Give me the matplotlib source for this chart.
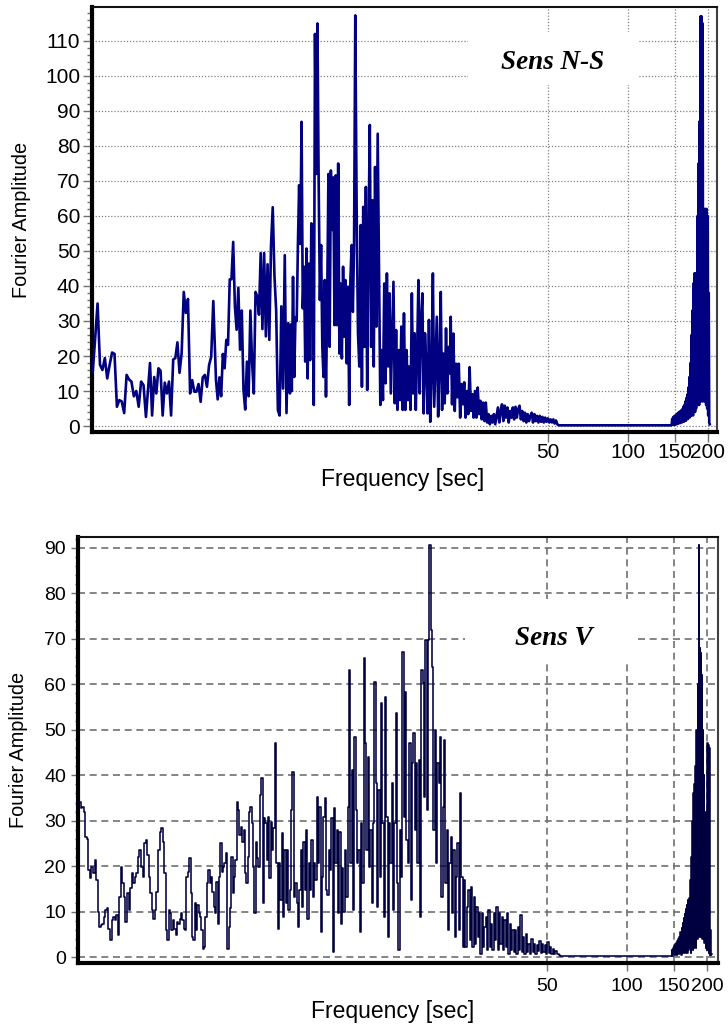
import numpy as np
import matplotlib
matplotlib.use("Agg")
import matplotlib.pyplot as plt
from matplotlib.patches import Rectangle
from matplotlib.ticker import FixedLocator, FixedFormatter, NullLocator, MultipleLocator

plt.rcParams['font.family'] = ['Liberation Sans', 'DejaVu Sans']

# ---------------- Sens N-S : Fourier amplitude, segment by segment ----------------
# each segment: (start frequency, end frequency) and amplitudes sampled across it
ns_seg1_freq = (0.974, 1.544)
ns_seg1_amp = [15.5, 25, 35, 17.5, 16, 19.4, 13.6, 17.5, 21, 20.6, 5.5, 7.4, 7, 3.7,
               14.6, 13.3, 12.7, 8.5, 10, 5.5, 12.7, 11.7, 2.6]
ns_seg2_freq = (1.599, 2.766)
ns_seg2_amp = [18, 3, 14, 9.3, 16.5, 15.8, 3, 12.4, 9.3, 12.7, 3, 19, 19.4, 23.9, 15.2,
               20.8, 38.3, 32.3, 36.3, 9.3, 13.1, 9.8, 9.8, 12, 6.9, 13.9, 14.6, 11.2,
               17.4, 19.8, 35.7]
ns_seg3_freq = (2.831, 5.37)
ns_seg3_amp = [13.1, 7.6, 13.9, 8.5, 20.6, 16.5, 24.6, 23.2, 41.9, 41.9, 52.6, 34.2,
               27.5, 39.5, 21.8, 33, 10.3, 4.7, 18.4, 8.5, 33, 18.1, 9.3, 38.3, 37, 31.8,
               49.4, 27.7, 49.4, 25.6, 46.2, 24.6, 51.5, 62.5, 42.9, 33, 4.5, 3, 34.2,
               10.7, 48.8, 3.7, 29.4, 9.3]
ns_seg4_freq = (5.40, 9.455)
ns_seg4_amp = [29, 10, 42.6, 14, 31, 30, 51.7, 68.8, 52, 86.9, 33.6, 45.5, 18.4, 50.7,
               13.6, 46.4, 18.8, 57.9, 47.4, 6, 112, 72, 115, 70, 36, 51.7, 22.6, 14,
               41.7, 8.4, 36, 72, 22.6, 73, 56, 71, 28.8, 71.6, 28.8, 75, 20.7, 40.7,
               19.3, 45.5, 25.5, 41.7, 17.9, 39.8, 6, 41.7, 51.7, 32.6, 51.2, 117.3]
ns_seg5_freq = (9.57, 21.46)
ns_seg5_amp = [60.7, 26.5, 17, 57.4, 11.2, 62.6, 22.6, 68.3, 10.3, 55,
               86, 22.6, 64.5, 17, 74, 28.4, 83.5, 43.6, 6, 21.7,
               7.4, 40.7, 12.2, 43.6, 17, 37.9, 9.3, 25.5, 41.2, 6.5,
               27.4, 4.6, 21.7, 7.4, 28.4, 4.6, 32.2, 4.6, 21.7, 7.4,
               17, 4.6, 37.9, 9.3, 26.5, 4.6, 20.7, 41.7, 9.3, 30.3,
               37.9, 3.6, 26.5, 17, 3.6, 30.3, 1.2, 15, 43.6, 5.5,
               18.8, 31.2, 2.7, 17, 38.3, 4.6, 20.7, 6.5, 27.9, 9.3,
               22.6, 15]
ns_seg6_freq = (21.6, 55.0)
ns_seg6_amp = [31.2, 6.2, 26.4, 4.3, 17.8, 8.2, 17.8, 2.4, 12, 6.2,
               12.5, 2.4, 10, 3.4, 16.8, 4.3, 9.1, 2.4, 10, 2.4,
               11, 3.4, 7.2, 1.9, 6.7, 1.4, 6.7, 1, 3.4, 0.5,
               2.9, 1, 3.4, 0.5, 2.9, 5.3, 1, 4.3, 6.2, 1.4,
               5.8, 2.4, 5.3, 1, 4.3, 2.4, 5.3, 1.9, 5.5, 2.4,
               4.8, 5.8, 1.9, 4.3, 1.4, 3.8, 1, 3.4, 1.4, 2.9,
               3.8, 1, 3.4, 1.4, 2.9, 1, 2.9, 1.2, 2.6, 1,
               2.4, 1.2, 2.2, 1, 1.9, 1, 1.9, 0.7, 1.6, 0.5, 0.2]
ns_flat_freq = (55.5, 146.0)
ns_flat_amp = [0.2, 0.2]
ns_seg7_freq = (146.3, 203.4)
ns_seg7_amp = [0.3, 2, 0.5, 2.5, 0.3, 2.8, 0.8, 3, 0.4, 3.2, 1, 3.5, 0.6, 3.8, 1, 4,
               0.8, 4.2, 1.2, 4.5, 1, 4.8, 1.5, 5.5,
               1.2, 6, 2, 7, 1.5, 8, 2.5, 9, 2, 11, 3, 14,
               2.5, 18, 3, 26, 4, 33,
               3, 40.7, 5, 43.6, 4, 43.6, 5, 42,
               6, 60, 7, 75, 6, 87,
               7, 117, 8, 117, 7, 115,
               8, 62, 7, 62, 9, 62, 6, 62, 5, 60,
               3, 38, 1, 0.5]

# ---------------- Sens V ----------------
v_seg1_freq = (0.8625, 1.827)
v_seg1_amp = [33.8, 34.2, 32.7, 33, 32, 26.5, 26, 19.1, 17.3, 19.8,
              18.4, 21.3, 16.9, 9.9, 6.6, 7, 7.3, 8.8, 10.3, 10.7,
              6.2, 3.7, 8.1, 8.8, 8.1, 9.2, 4.8, 13.2, 19.8, 16.2,
              13.2, 7.7, 14, 10.3, 15.1, 18.4, 16.2, 17.6, 18.4, 22,
              23.5, 19.8, 17.6, 25, 25.7, 22.4, 17.6, 14, 10.3, 8.4,
              10.3, 14.3, 23.5, 27.6, 28.3, 25.3, 18.4]
v_seg2_freq = (1.855, 5.883)
v_seg2_amp = [5.9, 3.7, 10.3, 9.6, 5.9, 8.1, 6.2, 4.8, 7.7, 7.3,
              8.4, 9.6, 8.1, 6.2, 5.9, 17.6, 18.7, 21.7, 14, 4.4,
              3.7, 11.8, 5.9, 11.4, 9.6, 8.8, 5.9, 1.8, 2.2, 8.8,
              16.2, 19.1, 16.2, 17.6, 14.3, 11, 9.6, 16.5, 7.3, 17.6,
              25, 18.7, 19.8, 20.6, 22.8, 1.8, 6.6, 10.7, 22, 14,
              17.6, 21.3, 34.2, 32.3, 26.8, 28.7, 25.3, 27.9, 18.4, 16.2,
              22, 32, 33, 29.4, 19.8, 9.6, 25.3, 21.7, 19.8, 35.6,
              39.3, 11.8, 30.5, 29.4, 21.3, 30.9, 17.3, 29.8, 23.5, 28.3,
              47, 20.6, 6.2, 20.6, 12.5, 27.2, 8.8, 23.5, 11.8, 23.5,
              10.3, 14.7, 32.3, 40.8, 13.2, 16.2, 11.8, 6.6, 14.7]
v_seg3_freq = (5.95, 55.97)
v_seg3_amp = [23.5, 11, 25.3, 14.7, 27.9, 8.4, 20.6, 14.7, 25.7, 13.2,
              20.6, 16.9, 35.3, 20.6, 33, 5.5, 17.6, 30.9, 34.9, 14.7,
              13.6, 23.5, 19.1, 30.5, 1.1, 32.7, 20.6, 27.9, 9.6, 27.6,
              7.3, 19.5, 9.9, 23.5, 13.2, 33, 63.2, 20.6, 41.1, 10.3,
              48.5, 32.3, 20.6, 23.5, 5.5, 29.4, 16.2, 65.8, 47, 23.5,
              44.1, 19.8, 27.9, 11.8, 29.4, 60.6, 38.2, 11, 36.7, 17.6,
              55.8, 29.4, 8.8, 57.3, 30.9, 4.4, 29.4, 20.6, 38.2, 10.3,
              29.4, 53.6, 16.2, 1.5, 27.9, 17.6, 67.2, 30.9, 58.4, 25.7,
              20.6, 47, 12.5, 42.6, 49.2, 27.9, 42.6, 20.6, 43.3, 8.8,
              63.2, 60.2, 35.3, 69.8, 32.3, 69.8, 90.7, 72, 63.9, 27.9,
              50, 20.6, 42.6, 38.2, 48.5, 13.2, 33, 47.8, 16.2, 27.9,
              5.9, 20.6, 26.5, 9.6, 23.5, 4.4, 17.6, 25, 5.9, 36,
              17.6, 2.2, 16.9, 2.2, 11, 14.7, 3.7, 15.4, 2.2, 13.2,
              2.9, 11, 4.4, 9.6, 0.7, 9.6, 2.2, 6.6, 8.8, 1.5,
              10.3, 2.2, 7.3, 1.5, 9.6, 3.7, 11, 1.5, 9.6, 2.9,
              8.8, 1.5, 8.1, 2.2, 9.6, 0.7, 7.3, 1.5, 5.9, 1.1,
              5.9, 0.7, 6.6, 1.5, 9.2, 1.1, 4.4, 0.7, 5.1, 1.1,
              2.9, 0.7, 4, 1.1, 2.9, 0.7, 2.6, 1.3, 3.5, 0.9,
              2.9, 1.1, 2.6, 0.7, 3.3, 0.9, 2.2, 0.7, 1.8, 0.6,
              1.3, 0.6, 0.7, 0.4]
v_flat_freq = (56.3, 147.0)
v_flat_amp = [0.2, 0.2]
v_seg4_freq = (147.3, 208.3)
v_seg4_amp = [0.5, 1.5, 0.3, 2, 0.6, 2.5, 0.4, 2.8, 0.8, 3, 0.5, 3.5, 1, 4, 0.6, 4.5,
              1, 5.5, 0.5, 6.5, 1.2, 7.5, 0.8, 8.5, 1.5, 9.5, 1, 10.5, 1.5, 11.5, 1, 12.5,
              1.5, 13, 2, 17, 1, 22, 2.5, 30, 1.5, 36, 2, 38, 3, 42, 2, 50,
              4, 60, 5, 90.7, 4.5, 68, 5, 67, 4.5, 62, 4, 50, 6, 40, 3, 32,
              2, 29, 1.5, 47, 2, 46.7, 1, 46, 0.5, 6, 0.5, 0.7]

x_tick_values = [50, 100, 150, 200]
x_tick_labels = ['50', '100', '150', '200']


def build(segments):
    fs, amps = [], []
    for (f0, f1), a in segments:
        fs.append(np.geomspace(f0, f1, len(a)))
        amps.append(np.asarray(a, dtype=float))
    return np.concatenate(fs), np.concatenate(amps)


ns_f, ns_a = build([(ns_seg1_freq, ns_seg1_amp), (ns_seg2_freq, ns_seg2_amp),
                    (ns_seg3_freq, ns_seg3_amp), (ns_seg4_freq, ns_seg4_amp),
                    (ns_seg5_freq, ns_seg5_amp), (ns_seg6_freq, ns_seg6_amp),
                    (ns_flat_freq, ns_flat_amp), (ns_seg7_freq, ns_seg7_amp)])
v_f, v_a = build([(v_seg1_freq, v_seg1_amp), (v_seg2_freq, v_seg2_amp),
                  (v_seg3_freq, v_seg3_amp), (v_flat_freq, v_flat_amp),
                  (v_seg4_freq, v_seg4_amp)])

fig = plt.figure(figsize=(7.28, 10.28), dpi=100)
ax1 = fig.add_axes([0.1264, 0.5798, 0.8585, 0.4134])
ax2 = fig.add_axes([0.1071, 0.0632, 0.8791, 0.4144])


def style(ax, xlim, ylim, grid_ls, grid_color, grid_lw, tick_fs, ylen, ypad, xlen, xpad):
    ax.set_xscale('log')
    ax.set_xlim(*xlim)
    ax.set_ylim(*ylim)
    ax.xaxis.set_major_locator(FixedLocator(x_tick_values))
    ax.xaxis.set_major_formatter(FixedFormatter(x_tick_labels))
    ax.xaxis.set_minor_locator(NullLocator())
    ax.yaxis.set_major_locator(MultipleLocator(10))
    ax.yaxis.set_minor_locator(MultipleLocator(2))
    ax.set_axisbelow(True)
    ax.grid(True, which='major', color=grid_color, linestyle=grid_ls, linewidth=grid_lw)
    ax.tick_params(axis='y', which='major', direction='out', length=ylen, width=1.0,
                   color='#707070', labelsize=tick_fs, pad=ypad)
    ax.tick_params(axis='y', which='minor', direction='out', length=ylen * 0.5, width=1.0,
                   color='#707070')
    ax.tick_params(axis='x', which='major', direction='out', length=xlen, width=1.0,
                   color='#707070', labelsize=tick_fs, pad=xpad)
    for s in ('left', 'bottom'):
        ax.spines[s].set_linewidth(3.0)
        ax.spines[s].set_color('black')
    ax.spines['top'].set_linewidth(1.5)
    ax.spines['top'].set_color('#111111')
    ax.spines['right'].set_linewidth(1.5)
    ax.spines['right'].set_color('#404040')


style(ax1, (0.968, 216.6), (-1.7, 119.7), (0, (1, 1.5)), '#808080', 0.9, 15, 6.5, 2, 7, 1.2)
style(ax2, (0.860, 219.9), (-1.3, 92.4), (0, (4.2, 2.8)), '#707070', 1.2, 14, 5, 3.6, 5.8, 5.2)

ax1.plot(ns_f, ns_a, color='#000080', linewidth=1.9, zorder=3)
ax2.plot(v_f, v_a, color='#000040', linewidth=1.15, drawstyle='steps-mid', zorder=3)

ax1.add_patch(Rectangle((0.6016, 0.8165), 0.272, 0.1247, transform=ax1.transAxes,
                        facecolor='white', edgecolor='none', zorder=1))
ax2.add_patch(Rectangle((0.6047, 0.7113), 0.269, 0.1440, transform=ax2.transAxes,
                        facecolor='white', edgecolor='none', zorder=1))

ax1.text(0.7376, 0.853, 'Sens N-S', transform=ax1.transAxes, ha='center', va='baseline',
         fontsize=19.5, fontweight='bold', fontstyle='italic',
         family=['Liberation Serif', 'DejaVu Serif'], zorder=4)
ax2.text(0.744, 0.7465, 'Sens V', transform=ax2.transAxes, ha='center', va='baseline',
         fontsize=19.5, fontweight='bold', fontstyle='italic',
         family=['Liberation Serif', 'DejaVu Serif'], zorder=4)

ax1.set_xlabel('Frequency [sec]', fontsize=16.5)
ax1.xaxis.set_label_coords(0.497, -0.085)
ax1.set_ylabel('Fourier Amplitude', fontsize=14.3)
ax1.yaxis.set_label_coords(-0.0976, 0.5)

ax2.set_xlabel('Frequency [sec]', fontsize=16.5)
ax2.xaxis.set_label_coords(0.492, -0.087)
ax2.set_ylabel('Fourier Amplitude', fontsize=14.3)
ax2.yaxis.set_label_coords(-0.078, 0.5)

fig.savefig('out.png', dpi=100)
